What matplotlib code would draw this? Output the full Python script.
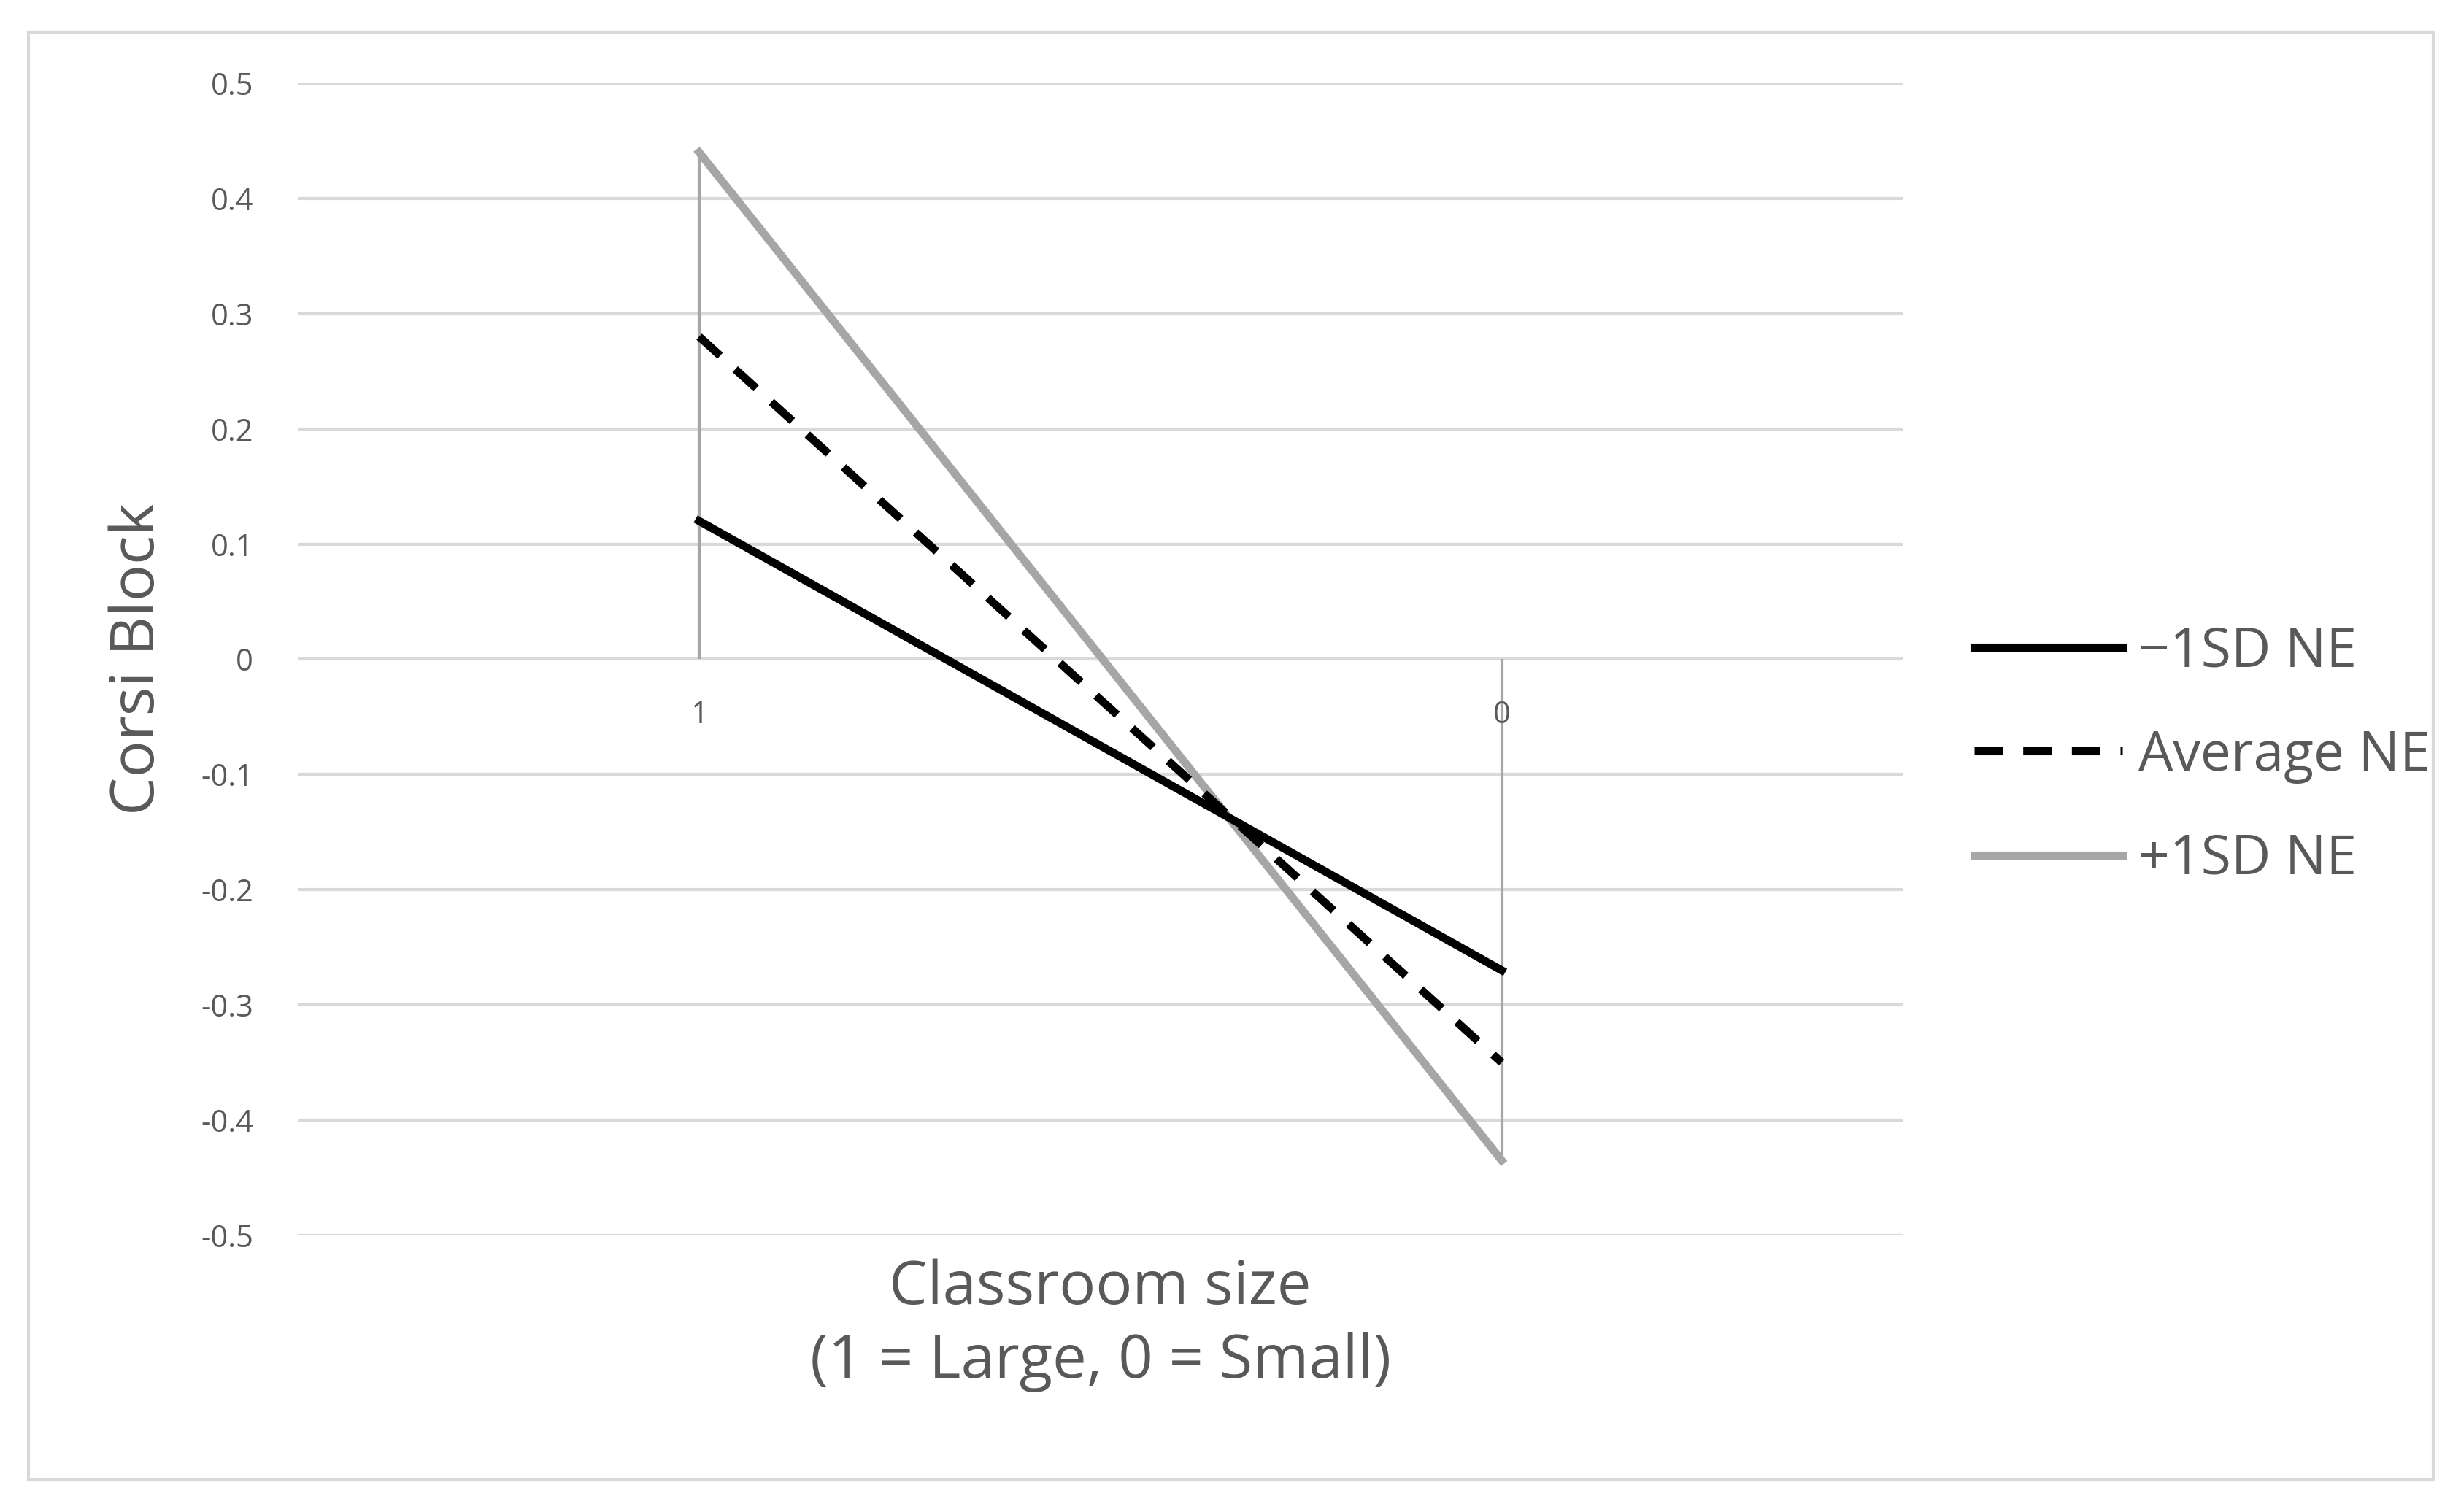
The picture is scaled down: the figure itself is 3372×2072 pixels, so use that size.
import matplotlib
matplotlib.use("Agg")
import matplotlib.pyplot as plt
from matplotlib.patches import Rectangle

categories = ["1", "0"]
minus_sd = [0.12, -0.27]
average = [0.28, -0.35]
plus_sd = [0.44, -0.435]
yticks = [0.5, 0.4, 0.3, 0.2, 0.1, 0, -0.1, -0.2, -0.3, -0.4, -0.5]
ytick_labels = ["0.5", "0.4", "0.3", "0.2", "0.1", "0", "-0.1", "-0.2", "-0.3", "-0.4", "-0.5"]

plt.rcParams['font.family'] = ['Open Sans', 'DejaVu Sans']
fig = plt.figure(figsize=(16.865, 10.36), dpi=200)
fig.patches.append(Rectangle((0.0115, 0.021), 0.977, 0.958, transform=fig.transFigure,
                             fill=False, edgecolor="#d9d9d9", linewidth=1.5))
ax = fig.add_axes([0.121, 0.183, 0.652, 0.762])
x = [0.5, 1.5]
ax.set_xlim(0, 2)
ax.set_ylim(-0.5, 0.5)
ax.set_yticks(yticks)
ax.set_yticklabels(ytick_labels, color="#595959", fontsize=15)
for t in yticks:
    ax.axhline(t, color="#d9d9d9", linewidth=1.5, zorder=0)
for s in ax.spines.values():
    s.set_visible(False)
ax.tick_params(length=0, pad=22)
ax.set_xticks([])
for i, (xi, vals) in enumerate(zip(x, zip(minus_sd, average, plus_sd))):
    hi = max(max(vals), 0); lo = min(min(vals), 0)
    ax.vlines(xi, lo, hi, color="#a6a6a6", linewidth=1.5, zorder=1)
    ax.text(xi, -0.035, categories[i], ha="center", va="top", color="#595959", fontsize=15)
ax.plot(x, minus_sd, color="black", linewidth=4, label="\u22121SD NE", zorder=3)
ax.plot(x, average, color="black", linewidth=4, linestyle=(0, (3.5, 2.5)), label="Average NE", zorder=3)
ax.plot(x, plus_sd, color="#a6a6a6", linewidth=4, label="+1SD NE", zorder=2)
ax.set_ylabel("Corsi Block", fontsize=30, color="#595959", labelpad=16)
ax.set_xlabel("Classroom size\n(1 = Large, 0 = Small)", fontsize=30, color="#595959", linespacing=1.3)
ax.xaxis.set_label_coords(0.5, -0.02)
ax.xaxis.label.set_va("top")
fig.legend(loc="center left", bbox_to_anchor=(0.782, 0.5), frameon=False, fontsize=27,
           labelcolor="#595959", handlelength=2.7, labelspacing=0.9, handletextpad=0.3)
fig.savefig("out.png", dpi=200)
